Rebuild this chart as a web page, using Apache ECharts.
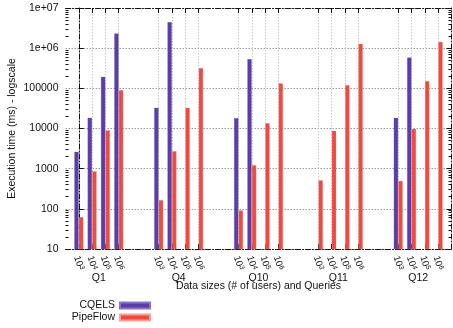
<!DOCTYPE html>
<html>
<head>
<meta charset="utf-8">
<script src="https://cdn.jsdelivr.net/npm/echarts@6/dist/echarts.min.js"></script>
<style>
  html, body { margin: 0; padding: 0; background: #fff; }
  #chart { width: 453px; height: 328px; }
</style>
</head>
<body>
<div id="chart"></div>
<script>
// Queries and data sizes (exponent of 10 users) drawn on the x axis
const groups = ['Q1', 'Q4', 'Q10', 'Q11', 'Q12'];
const sizeExponents = ['3', '4', '5', '6'];

// Execution time in ms, one row per query, one entry per data size
const cqels = [
  [2650, 18600, 195000, 2340000],
  [33000, 4500000, null, null],
  [18300, 537000, null, null],
  [null, null, null, null],
  [18600, 590000, null, null]
];
const pipeflow = [
  [63, 870, 9100, 91000],
  [166, 2750, 33000, 321000],
  [92, 1230, 13700, 135000],
  [515, 8800, 121000, 1290000],
  [500, 9900, 152000, 1440000]
];

// Log-scale tick values and their printed labels
const yTicks = [10, 100, 1000, 10000, 100000, 1000000, 10000000];
const yTickLabels = ['10', '100', '1000', '10000', '100000', '1e+06', '1e+07'];

const seriesNames = ['CQELS', 'PipeFlow'];
const colors = ['#5a3da6', '#f1493f'];

// Build slot list: one empty slot at each end, two empty slots between queries
const GAP = 2;
const slots = [];      // category keys
const slotGroup = [];  // group index per slot (-1 = empty)
const slotSize = [];   // size index per slot
let gapId = 0;
slots.push('gap' + (gapId++)); slotGroup.push(-1); slotSize.push(-1);
groups.forEach((g, gi) => {
  sizeExponents.forEach((e, si) => {
    slots.push(g + ':' + e); slotGroup.push(gi); slotSize.push(si);
  });
  const pad = gi < groups.length - 1 ? GAP : 1;
  for (let k = 0; k < pad; k++) {
    slots.push('gap' + (gapId++)); slotGroup.push(-1); slotSize.push(-1);
  }
});
const toSeries = (rows) => slots.map((_, i) =>
  slotGroup[i] < 0 ? null : rows[slotGroup[i]][slotSize[i]]);

// Centres of each query's block, in slot units (first slot is -1)
const groupCentres = groups.map((_, gi) => {
  const idx = slots.indexOf(groups[gi] + ':' + sizeExponents[0]);
  return idx - 1 + (sizeExponents.length - 1) / 2;
});

const isData = (i) => slotGroup[i] >= 0;
const minorTicks = [];
for (let d = 10; d < 1e7; d *= 10) for (let m = 2; m <= 9; m++) minorTicks.push(d * m);

const FONT = 'Liberation Sans, Arial, Helvetica, sans-serif';
const frame = { show: true, lineStyle: { color: '#111', width: 1, type: [5, 2, 1, 2] } };

const chart = echarts.init(document.getElementById('chart'), null, { renderer: 'canvas' });
chart.setOption({
  animation: false,
  backgroundColor: '#fff',
  textStyle: { fontFamily: FONT },
  grid: { left: 65.5, right: 1.5, top: 8, bottom: 79, outerBoundsMode: 'none' },
  legend: [
    {
      data: [seriesNames[0]], orient: 'horizontal', align: 'right',
      right: 302, top: 300, padding: 0, itemWidth: 30, itemHeight: 6,
      icon: 'rect', selectedMode: false,
      textStyle: { fontFamily: FONT, fontSize: 10.5, color: '#111' }
    },
    {
      data: [seriesNames[1]], orient: 'horizontal', align: 'right',
      right: 302, top: 312, padding: 0, itemWidth: 30, itemHeight: 6,
      icon: 'rect', selectedMode: false,
      textStyle: { fontFamily: FONT, fontSize: 10.5, color: '#111' }
    }
  ],
  xAxis: [
    {
      type: 'category', data: slots, boundaryGap: false, position: 'bottom',
      axisLine: frame,
      axisTick: { show: true, inside: true, length: 5, interval: isData, lineStyle: { color: '#111' } },
      axisLabel: {
        interval: isData, rotate: -72, margin: 14, align: 'center', verticalAlign: 'middle',
        fontFamily: FONT, fontSize: 9.5, color: '#111',
        formatter: (v) => v.indexOf(':') < 0 ? '' : '10{s|' + v.split(':')[1] + '}',
        rich: { s: { fontFamily: FONT, fontSize: 7, color: '#111', verticalAlign: 'top' } }
      },
      splitLine: { show: true, interval: isData, lineStyle: { color: '#c8c8c8', width: 1, type: [1.5, 1.5] } }
    },
    {
      type: 'category', data: slots, boundaryGap: false, position: 'top',
      axisLine: frame,
      axisTick: { show: true, inside: true, length: 5, interval: isData, lineStyle: { color: '#111' } },
      axisLabel: { show: false }, splitLine: { show: false }
    },
    {
      type: 'value', min: -1, max: slots.length - 2, position: 'bottom', offset: 22,
      axisLine: { show: false }, axisTick: { show: false }, splitLine: { show: false },
      axisLabel: {
        customValues: groupCentres, margin: 2,
        fontFamily: FONT, fontSize: 10.5, color: '#111',
        formatter: (v) => groups[groupCentres.findIndex(c => Math.abs(c - v) < 1e-6)] || ''
      },
      name: 'Data sizes (# of users) and Queries', nameLocation: 'middle', nameGap: 10,
      nameMoveOverlap: false,
      nameTextStyle: { fontFamily: FONT, fontSize: 10.5, color: '#111' }
    }
  ],
  yAxis: [
    {
      type: 'log', logBase: 10, min: yTicks[0], max: yTicks[yTicks.length - 1], position: 'left',
      axisLine: frame,
      axisTick: { show: true, inside: true, length: 5, lineStyle: { color: '#111' } },
      axisLabel: {
        fontFamily: FONT, fontSize: 10.5, color: '#111', margin: 7,
        formatter: (v) => yTickLabels[Math.round(Math.log10(v)) - 1]
      },
      splitLine: { show: true, lineStyle: { color: '#9a9a9a', width: 1, type: [1.5, 1.5] } },
      name: 'Execution time (ms) - logscale', nameLocation: 'middle', nameRotate: 90, nameGap: 48,
      nameMoveOverlap: false,
      nameTextStyle: { fontFamily: FONT, fontSize: 10.5, color: '#111' }
    },
    {
      type: 'log', logBase: 10, min: yTicks[0], max: yTicks[yTicks.length - 1], position: 'right',
      axisLine: frame,
      axisTick: { show: true, inside: true, length: 5, lineStyle: { color: '#111' } },
      axisLabel: { show: false }, splitLine: { show: false }
    },
    {
      type: 'log', logBase: 10, min: yTicks[0], max: yTicks[yTicks.length - 1], position: 'left',
      axisLine: { show: false },
      axisTick: { show: true, inside: true, length: 3, customValues: minorTicks, lineStyle: { color: '#111' } },
      axisLabel: { show: false }, splitLine: { show: false }
    },
    {
      type: 'log', logBase: 10, min: yTicks[0], max: yTicks[yTicks.length - 1], position: 'right',
      axisLine: { show: false },
      axisTick: { show: true, inside: true, length: 3, customValues: minorTicks, lineStyle: { color: '#111' } },
      axisLabel: { show: false }, splitLine: { show: false }
    }
  ],
  series: [
    {
      name: seriesNames[0], type: 'bar', xAxisIndex: 0, yAxisIndex: 0,
      data: toSeries(cqels), barWidth: 4.6, barGap: '0%',
      itemStyle: { color: colors[0], borderColor: '#8a76c4', borderWidth: 0.6, borderType: 'dotted' }
    },
    {
      name: seriesNames[1], type: 'bar', xAxisIndex: 0, yAxisIndex: 0,
      data: toSeries(pipeflow), barWidth: 4.6, barGap: '0%',
      itemStyle: { color: colors[1], borderColor: '#f7a19a', borderWidth: 0.6, borderType: 'dotted' }
    }
  ]
});
</script>
</body>
</html>
